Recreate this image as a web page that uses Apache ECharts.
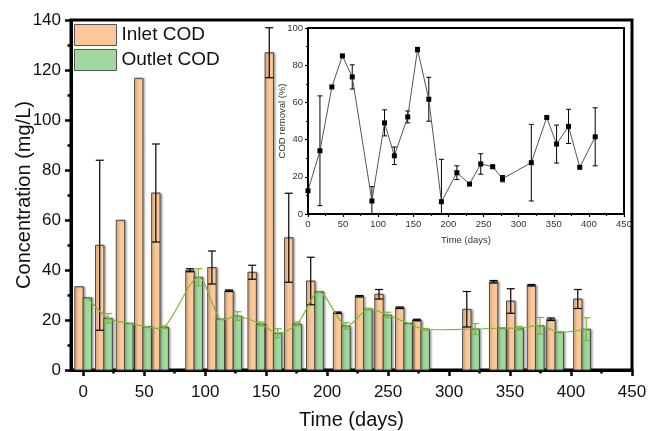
<!DOCTYPE html>
<html><head><meta charset="utf-8">
<script src="https://cdn.jsdelivr.net/npm/echarts@6/dist/echarts.min.js"></script>
<style>html,body{margin:0;padding:0;background:#fff}#c{width:648px;height:431px}</style>
</head><body><div id="c"></div>
<script>
// ---- data ----
const days = [0, 17, 34, 49, 63, 91, 109, 123, 142, 156, 172, 190, 212, 230, 246, 263, 277, 318, 340, 354, 371, 387, 409];
const inletCOD = [33.3, 49.9, 59.9, 116.7, 70.8, 39.9, 41.0, 31.7, 39.1, 126.9, 52.9, 35.6, 22.9, 29.5, 30.3, 24.9, 20.0, 24.3, 35.3, 27.6, 33.9, 20.3, 28.4];
const inletErr = [0, 34, 0, 0, 19.6, 0.6, 6.6, 0.3, 2.8, 10, 17.8, 9.5, 0.3, 0.3, 1.9, 0.3, 0.3, 7.1, 0.5, 4.9, 0.3, 0.5, 3.8];
const outletCOD = [28.9, 20.7, 18.7, 17.3, 17.1, 37.1, 20.4, 21.6, 18.4, 14.7, 18.4, 31.3, 17.6, 24.4, 22.0, 18.7, 16.3, 16.4, 16.8, 16.7, 17.7, 15.2, 16.3];
const outletErr = [0, 1.9, 0, 0, 0.5, 3.4, 0, 1.7, 0.8, 1.8, 0.8, 0, 1.3, 0.3, 1.1, 0, 0.3, 2.2, 0, 0.7, 3.3, 0, 4.6];
const removal = [12.5, 34, 68.3, 85, 73.7, 7, 49, 31.3, 52.2, 88.4, 61.7, 6.6, 22.2, 16.1, 26.9, 25.4, 19, 27.6, 51.9, 37.6, 47.1, 25.1, 41.5];
const removalErr = [0, 29.5, 0, 0, 6.5, 7.7, 7, 4.7, 3.2, 1.2, 11.8, 22.8, 3.7, 0, 5.5, 0.8, 1.7, 20.6, 0, 10.2, 9.2, 0, 15.6];
const xMajorTicks = [0, 50, 100, 150, 200, 250, 300, 350, 400, 450];
const xMinorTicks = [25, 75, 125, 175, 225, 275, 325, 375, 425];
const seriesNames = ['Inlet COD', 'Outlet COD'];

// ---- style ----
const FONT = '"Liberation Sans", Arial, sans-serif';
const BAR_W = 8.4;
const ORANGE = '#FDC897', GREEN = '#A0D89E', LINE_GREEN = '#7DB53A';

function rows(vals, errs) { return days.map((t, i) => [t, vals[i], errs[i]]); }

function barRender(side, fill) {
  return function (params, api) {
    const t = api.value(0), v = api.value(1);
    const top = api.coord([t, v]);
    const base = api.coord([t, 0]);
    const x = side < 0 ? top[0] - BAR_W : top[0];
    return {
      type: 'rect',
      shape: { x: x, y: top[1], width: BAR_W, height: base[1] - top[1] },
      style: { fill: fill, stroke: '#3a3a3a', lineWidth: 0.9,
        shadowColor: 'rgba(0,0,0,0.35)', shadowBlur: 2, shadowOffsetX: 1.5, shadowOffsetY: 0.5 }
    };
  };
}
function errRender(offset, color, cap, lw) {
  return function (params, api) {
    const t = api.value(0), v = api.value(1), e = api.value(2);
    if (!e) return null;
    const hi = api.coord([t, v + e]), lo = api.coord([t, v - e]);
    const cx = hi[0] + offset;
    const st = { stroke: color, lineWidth: lw };
    return { type: 'group', children: [
      { type: 'line', shape: { x1: cx, y1: hi[1], x2: cx, y2: lo[1] }, style: st },
      { type: 'line', shape: { x1: cx - cap / 2, y1: hi[1], x2: cx + cap / 2, y2: hi[1] }, style: st },
      { type: 'line', shape: { x1: cx - cap / 2, y1: lo[1], x2: cx + cap / 2, y2: lo[1] }, style: st }
    ]};
  };
}

const chart = echarts.init(document.getElementById('c'), null, { renderer: 'canvas' });
const axisText = { fontFamily: FONT, color: '#111' };
const insetText = { fontFamily: FONT, color: '#333', fontSize: 9.5 };

chart.setOption({
  animation: false,
  backgroundColor: '#fff',
  textStyle: { fontFamily: FONT },
  legend: {
    orient: 'vertical', left: 74, top: 24, padding: 0, itemGap: 3,
    itemWidth: 42, itemHeight: 21,
    data: seriesNames.map(n => ({ name: n, icon: 'rect' })),
    itemStyle: { borderColor: '#555', borderWidth: 1 },
    textStyle: { fontSize: 19, color: '#111', fontFamily: FONT },
    selectedMode: false
  },
  grid: [
    { left: 71, top: 20, width: 561, height: 350, show: true, borderColor: '#000', borderWidth: 3,
      backgroundColor: 'transparent', containLabel: false, outerBoundsMode: 'none' },
    { left: 308, top: 28, width: 316, height: 186, show: true, borderColor: '#000', borderWidth: 2,
      backgroundColor: 'transparent', containLabel: false, outerBoundsMode: 'none' }
  ],
  xAxis: [
    { gridIndex: 0, type: 'value', min: -10, max: 450, position: 'bottom',
      axisLine: { show: true, onZero: false, lineStyle: { color: '#000', width: 3 } },
      axisTick: { show: true, customValues: xMajorTicks, length: 6, lineStyle: { color: '#000', width: 2.5 } },
      axisLabel: Object.assign({ customValues: xMajorTicks, fontSize: 17, margin: 14 }, axisText),
      splitLine: { show: false },
      name: 'Time (days)', nameLocation: 'middle', nameGap: 40, nameMoveOverlap: false,
      nameTextStyle: Object.assign({ fontSize: 20 }, axisText) },
    { gridIndex: 0, type: 'value', min: -10, max: 450, position: 'bottom',
      axisLine: { show: false },
      axisTick: { show: true, customValues: xMinorTicks, length: 3.5, lineStyle: { color: '#000', width: 2.5 } },
      axisLabel: { show: false }, splitLine: { show: false } },
    { gridIndex: 1, type: 'value', min: 0, max: 450, interval: 50, position: 'bottom',
      axisLine: { show: true, onZero: false, lineStyle: { color: '#000', width: 2 } },
      axisTick: { show: true, length: 3, lineStyle: { color: '#000', width: 1.2 } },
      minorTick: { show: true, splitNumber: 2, length: 2, lineStyle: { color: '#000', width: 1.2 } },
      axisLabel: Object.assign({ margin: 5 }, insetText),
      splitLine: { show: false },
      name: 'Time (days)', nameLocation: 'middle', nameGap: 21, nameMoveOverlap: false, nameTextStyle: insetText }
  ],
  yAxis: [
    { gridIndex: 0, type: 'value', min: 0, max: 140, interval: 20,
      axisLine: { show: true, onZero: false, lineStyle: { color: '#000', width: 3 } },
      axisTick: { show: true, length: 6, lineStyle: { color: '#000', width: 2.5 } },
      minorTick: { show: true, splitNumber: 2, length: 3.5, lineStyle: { color: '#000', width: 2.5 } },
      axisLabel: Object.assign({ fontSize: 17, margin: 10 }, axisText),
      splitLine: { show: false },
      name: 'Concentration (mg/L)', nameLocation: 'middle', nameGap: 37, nameMoveOverlap: false,
      nameTextStyle: Object.assign({ fontSize: 20 }, axisText) },
    { gridIndex: 1, type: 'value', min: 0, max: 100, interval: 20,
      axisLine: { show: true, onZero: false, lineStyle: { color: '#000', width: 2 } },
      axisTick: { show: true, length: 3, lineStyle: { color: '#000', width: 1.2 } },
      minorTick: { show: true, splitNumber: 2, length: 2, lineStyle: { color: '#000', width: 1.2 } },
      axisLabel: Object.assign({ margin: 5 }, insetText),
      splitLine: { show: false },
      name: 'COD removal (%)', nameLocation: 'middle', nameGap: 21, nameMoveOverlap: false, nameTextStyle: insetText }
  ],
  series: [
    { type: 'custom', name: seriesNames[0], xAxisIndex: 0, yAxisIndex: 0, z: 2,
      itemStyle: { color: ORANGE }, data: rows(inletCOD, inletErr),
      encode: { x: 0, y: 1 }, renderItem: barRender(-1, ORANGE) },
    { type: 'custom', name: seriesNames[1], xAxisIndex: 0, yAxisIndex: 0, z: 2,
      itemStyle: { color: GREEN }, data: rows(outletCOD, outletErr),
      encode: { x: 0, y: 1 }, renderItem: barRender(1, GREEN) },
    { type: 'custom', name: 'inletErr', xAxisIndex: 0, yAxisIndex: 0, z: 3,
      data: rows(inletCOD, inletErr), encode: { x: 0, y: 1 },
      renderItem: errRender(-BAR_W / 2, '#000', 8, 1.2) },
    { type: 'custom', name: 'outletLine', xAxisIndex: 0, yAxisIndex: 0, z: 4,
      data: rows(outletCOD, outletErr), encode: { x: 0, y: 1 },
      renderItem: function (params, api) {
        if (params.dataIndex !== 0) return null;
        const pts = days.map((t, i) => { const p = api.coord([t, outletCOD[i]]); return [p[0] + BAR_W / 2, p[1]]; });
        return { type: 'polyline', shape: { points: pts, smooth: 0.3 }, style: { stroke: LINE_GREEN, lineWidth: 1.2, fill: null } };
      } },
    { type: 'custom', name: 'outletErr', xAxisIndex: 0, yAxisIndex: 0, z: 5,
      data: rows(outletCOD, outletErr), encode: { x: 0, y: 1 },
      renderItem: errRender(BAR_W / 2, LINE_GREEN, 8, 1.2) },
    { type: 'line', name: 'removal', xAxisIndex: 2, yAxisIndex: 1, z: 6,
      data: days.map((t, i) => [t, removal[i]]),
      symbol: 'rect', symbolSize: 5, showSymbol: true,
      itemStyle: { color: '#000' }, lineStyle: { color: '#555', width: 1 } },
    { type: 'custom', name: 'removalErr', xAxisIndex: 2, yAxisIndex: 1, z: 6, clip: true,
      data: rows(removal, removalErr), encode: { x: 0, y: 1 },
      renderItem: errRender(0, '#000', 5, 1) }
  ]
});
</script>
</body></html>
